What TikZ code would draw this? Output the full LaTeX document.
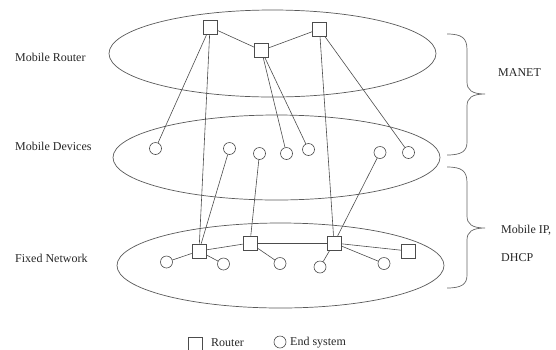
\documentclass[tikz,border=0pt]{standalone}
\usepackage{fontspec}
\setmainfont{Liberation Serif}
\begin{document}
\begin{tikzpicture}[x=1pt,y=-1pt,
  every node/.style={font=\fontsize{12}{14}\selectfont, text=black!85},
  router/.style={draw=black!70, line width=0.6pt, rectangle, minimum size=14pt, inner sep=0pt, fill=white},
  endsys/.style={draw=black!70, line width=0.6pt, circle, minimum size=12pt, inner sep=0pt, fill=white},
  link/.style={draw=black!70, line width=0.6pt},
  layer/.style={draw=black!65, line width=0.7pt},
  bracebar/.style={draw=black!60, line width=0.7pt},
  lbl/.style={anchor=west, inner sep=0pt}]
\useasboundingbox (0,0) rectangle (556,349);

% network layers
\draw[layer] (272.5,53.5) ellipse [x radius=163.5, y radius=43.5];
\draw[layer] (276.5,157.5) ellipse [x radius=163.5, y radius=42.5];
\draw[layer] (280.5,265.5) ellipse [x radius=163.5, y radius=42.5];

% mobile routers
\node[router] (r1) at (210,27) {};
\node[router] (r2) at (261.5,50.5) {};
\node[router] (r3) at (319.5,29) {};

% mobile devices
\node[endsys] (m1) at (155.5,148.5) {};
\node[endsys] (m2) at (229.5,148.5) {};
\node[endsys] (m3) at (259.5,153.5) {};
\node[endsys] (m4) at (286.5,153.5) {};
\node[endsys] (m5) at (308.5,149.5) {};
\node[endsys] (m6) at (380,152.5) {};
\node[endsys] (m7) at (408.5,152.5) {};

% fixed network
\node[router] (f1) at (199,251) {};
\node[router] (f2) at (250,243) {};
\node[router] (f3) at (334,243) {};
\node[router] (f4) at (408.5,251) {};
\node[endsys] (e1) at (166.5,262) {};
\node[endsys] (e2) at (223.5,264) {};
\node[endsys] (e3) at (280,263.5) {};
\node[endsys] (e4) at (320,267) {};
\node[endsys] (e5) at (384,263.5) {};

% links
\draw[link] (r1) -- (r2);
\draw[link] (r2) -- (r3);
\draw[link] (r1) -- (m1);
\draw[link] (r1) -- (f1);
\draw[link] (r2) -- (m4);
\draw[link] (r2) -- (m5);
\draw[link] (r3) -- (f3);
\draw[link] (r3) -- (m7);
\draw[link] (m2) -- (f1);
\draw[link] (m3) -- (f2);
\draw[link] (m6) -- (f3);
\draw[link] (f1) -- (f2);
\draw[link] (f2) -- (f3);
\draw[link] (f3) -- (f4);
\draw[link] (f1) -- (e1);
\draw[link] (f1) -- (e2);
\draw[link] (f2) -- (e3);
\draw[link] (f3) -- (e4);
\draw[link] (f3) -- (e5);

% layer names
\node[lbl] (t1) at (15,57) {Mobile Router};
\node[lbl] (t2) at (15,146) {Mobile Devices};
\node[lbl] (t3) at (15,258) {Fixed Network};

% braces
\draw[bracebar] (447,34) .. controls (462,34) and (467,38) .. (467,50) -- (467,82)
  .. controls (467,90) and (472,94) .. (485,94)
  .. controls (472,94) and (467,98) .. (467,106) -- (467,142)
  .. controls (467,151) and (462,155) .. (447,155);
\draw[bracebar] (447,167) .. controls (462,167) and (467,171) .. (467,183) -- (467,216)
  .. controls (467,224) and (472,228) .. (485,228)
  .. controls (472,228) and (467,232) .. (467,240) -- (467,275)
  .. controls (467,284) and (462,288) .. (447,288);
\node[lbl] (p1) at (498,73) {MANET};
\node[lbl] (p2) at (501,230) {Mobile IP,};
\node[lbl] (p3) at (501,258) {DHCP};

% legend
\node[router] (kr) at (195.5,344) {};
\node[lbl] (kt1) at (211,343) {Router};
\node[endsys] (ke) at (280,342) {};
\node[lbl] (kt2) at (290,343) {End system};
\end{tikzpicture}
\end{document}
